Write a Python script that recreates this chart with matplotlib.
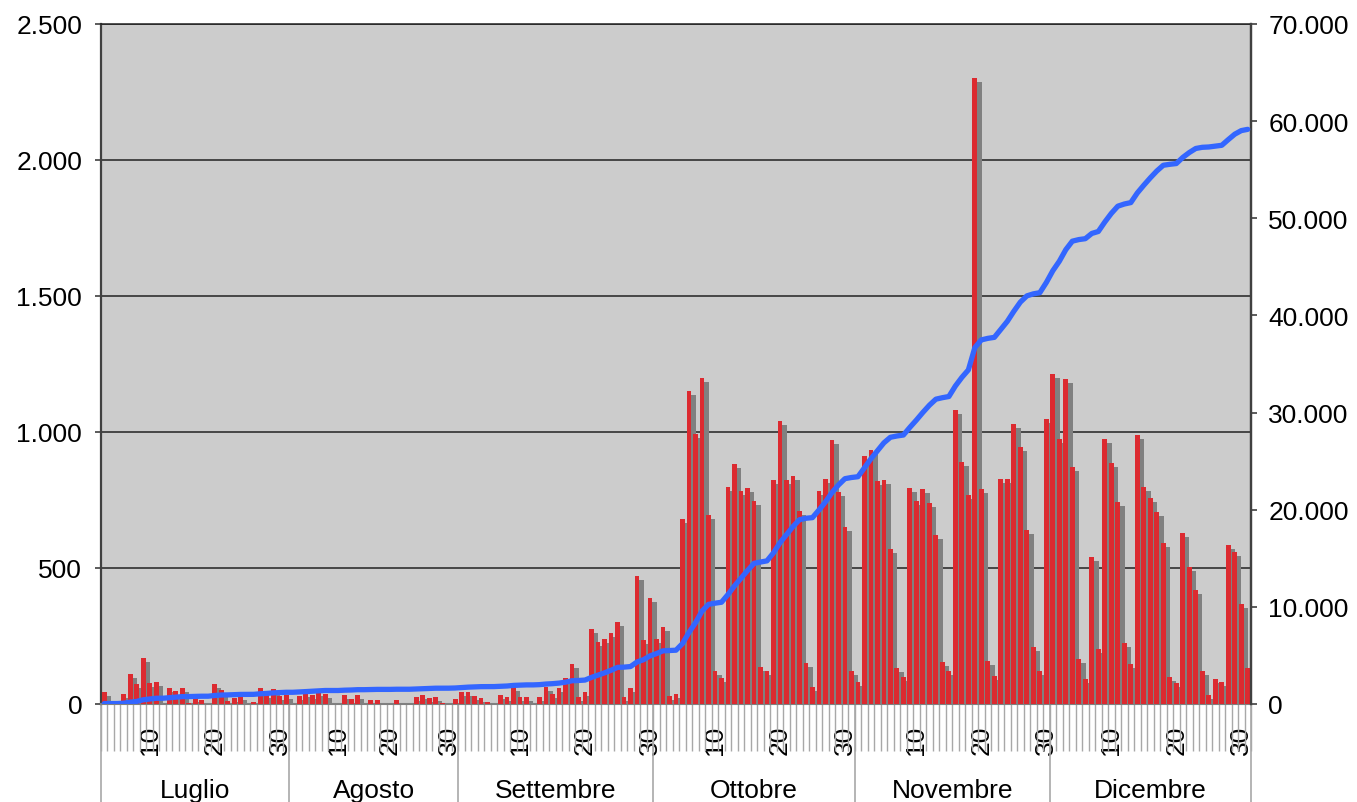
import numpy as np
import matplotlib
matplotlib.use('Agg')
import matplotlib.pyplot as plt
import matplotlib.patheffects as pe
from matplotlib.ticker import FuncFormatter, FixedLocator

plt.rcParams['font.family'] = ['Liberation Sans', 'DejaVu Sans']

# day numbers shown on the category axis (one bar per listed day)
months = ['Luglio', 'Agosto', 'Settembre', 'Ottobre', 'Novembre', 'Dicembre']
days_jul = list(range(3, 32))
days_aug = [1, 3, 4, 5, 6, 7, 8, 10, 11, 12, 13, 14, 17, 18, 19, 20,
            21, 22, 24, 25, 26, 27, 28, 29, 30, 31]
days_sep = list(range(1, 31))
days_oct = list(range(1, 32))
days_nov = list(range(1, 31))
days_dic = list(range(1, 32))

# daily values (left axis)
val_jul = [45, 0, 0, 37, 110, 74, 169, 77, 81, 0, 59, 48, 59, 5, 22, 15, 0, 74,
           51, 10, 22, 29, 0, 7, 59, 37, 55, 29, 33]
val_aug = [0, 29, 40, 33, 44, 37, 0, 0, 33, 18, 33, 0, 15, 15, 0, 0, 15, 0, 0,
           26, 33, 22, 26, 3, 0, 18]
val_sep = [44, 44, 29, 22, 7, 0, 33, 26, 63, 26, 26, 0, 26, 63, 37, 59, 96, 147,
           26, 44, 276, 228, 239, 261, 301, 26, 59, 471, 235, 390]
val_oct = [239, 283, 29, 37, 680, 1151, 993, 1199, 695, 121, 96, 798, 882, 783,
           794, 746, 136, 121, 824, 1040, 824, 838, 710, 151, 63, 783, 827, 971,
           779, 651, 121]
val_nov = [81, 912, 934, 820, 824, 570, 132, 99, 794, 746, 790, 739, 621, 154,
           121, 1081, 890, 768, 2300, 790, 158, 103, 827, 827, 1029, 945, 640,
           210, 121, 1048]
val_dic = [1213, 974, 1195, 871, 165, 92, 540, 202, 974, 886, 743, 224, 147, 989,
           798, 757, 706, 592, 99, 77, 629, 504, 419, 121, 33, 92, 81, 585, 559,
           368, 132]

day_lists = [days_jul, days_aug, days_sep, days_oct, days_nov, days_dic]
days = sum(day_lists, [])
daily = np.array(val_jul + val_aug + val_sep + val_oct + val_nov + val_dic, float)
total = np.cumsum(daily)  # running total (right axis)
x = np.arange(len(days))

RED = '#DC2A30'
BLUE = '#3366FF'
FS = 19

def dotted(v, pos):
    return f'{v:,.0f}'.replace(',', '.')

fig = plt.figure(figsize=(13.57, 8.03), dpi=100)
ax = fig.add_axes([101 / 1357, 1 - 705 / 803, 1150 / 1357, 680 / 803])
ax.set_facecolor('#CCCCCC')

bars = ax.bar(x, daily, width=0.74, color=RED, linewidth=0, zorder=3)
for b in bars:
    b.set_path_effects([pe.SimplePatchShadow(offset=(3.1, -2.9),
                                             shadow_rgbFace='#808080', alpha=1.0),
                        pe.Normal()])

ax.set_xlim(-0.5, len(days) - 0.5)
ax.set_ylim(0, 2500)
ax.set_yticks(np.arange(0, 2501, 500))
ax.yaxis.set_major_formatter(FuncFormatter(dotted))
ax.set_axisbelow(True)
ax.yaxis.grid(True, color='#222222', lw=1.1)

# category axis: day labels at 10/20/30, a tick line between every category
lab_pos = [i for i, d in enumerate(days) if d in (10, 20, 30)]
ax.xaxis.set_major_locator(FixedLocator(lab_pos))
ax.set_xticklabels([str(days[i]) for i in lab_pos], rotation=90)
ax.xaxis.set_minor_locator(FixedLocator(np.arange(len(days) + 1) - 0.5))
ax.tick_params(axis='x', which='major', length=0, pad=15, labelsize=FS)
ax.tick_params(axis='x', which='minor', length=34, width=1, color='#A8A8A8')
ax.tick_params(axis='y', direction='out', length=4.5, width=1.2,
               color='#404040', pad=9, labelsize=FS)

for s in ['left', 'right']:
    ax.spines[s].set_color('#404040')
    ax.spines[s].set_linewidth(1.6)
ax.spines['bottom'].set_color('#808080')
ax.spines['bottom'].set_linewidth(1.5)
ax.spines['top'].set_color('#222222')
ax.spines['top'].set_linewidth(1.1)

# month separators and names
trans = ax.get_xaxis_transform()
bounds = np.concatenate([[0], np.cumsum([len(d) for d in day_lists])]) - 0.5
for b in bounds:
    ax.plot([b, b], [0, -0.146], transform=trans, color='#A8A8A8', lw=1.2,
            clip_on=False, zorder=1)
for k, name in enumerate(months):
    ax.text((bounds[k] + bounds[k + 1]) / 2, -0.126, name, transform=trans,
            ha='center', va='center', fontsize=FS)

ax2 = ax.twinx()
ax2.plot(x, total, color=BLUE, lw=3.8, solid_joinstyle='round',
         solid_capstyle='round', zorder=4)
ax2.set_ylim(0, 70000)
ax2.set_yticks(np.arange(0, 70001, 10000))
ax2.yaxis.set_major_formatter(FuncFormatter(dotted))
ax2.tick_params(axis='y', direction='out', length=4.5, width=1.2,
                color='#404040', pad=8, labelsize=FS)
for s in ['left', 'top', 'bottom']:
    ax2.spines[s].set_visible(False)
ax2.spines['right'].set_color('#404040')
ax2.spines['right'].set_linewidth(1.6)

fig.savefig('out.png', dpi=100)
